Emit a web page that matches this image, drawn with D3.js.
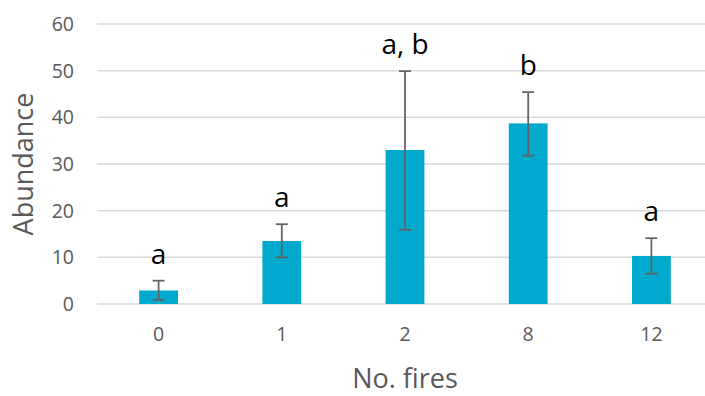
<!DOCTYPE html>
<html>
<head>
<meta charset="utf-8">
<script src="https://cdn.jsdelivr.net/npm/d3@7"></script>
<style>
  body { margin: 0; background: #fff; }
  text { font-family: "Open Sans", "Noto Sans", sans-serif; }
</style>
</head>
<body>
<svg id="chart"></svg>
<script>
// values
var fires = ["0", "1", "2", "8", "12"];
var abundance = [2.9, 13.5, 33.0, 38.7, 10.3];
var errLow = [0.9, 10.0, 15.9, 31.8, 6.5];
var errHigh = [5.0, 17.1, 49.9, 45.4, 14.1];
var groups = ["a", "a", "a, b", "b", "a"];
var yTicks = [0, 10, 20, 30, 40, 50, 60];

var width = 705, height = 396;
var margin = {top: 24, right: -8, bottom: 92, left: 97};

var data = fires.map(function(f, i) {
    return {fires: f, value: abundance[i], lo: errLow[i], hi: errHigh[i], group: groups[i]};
});

var chart = d3.select('#chart')
    .attr('width', width)
    .attr('height', height);

var x = d3.scaleBand()
    .domain(fires)
    .range([margin.left, width - margin.right])
    .paddingInner(0.685)
    .paddingOuter(0.3425);

var y = d3.scaleLinear()
    .domain([0, 60])
    .range([height - margin.bottom, margin.top]);

// gridlines
chart.append("g")
    .selectAll("line")
    .data(yTicks)
    .enter()
    .append("line")
        .attr("x1", margin.left)
        .attr("x2", width)
        .attr("y1", d => y(d))
        .attr("y2", d => y(d))
        .attr("stroke", "#d9d9d9")
        .attr("stroke-width", 1.5);

// y tick labels
chart.append("g")
    .selectAll("text")
    .data(yTicks)
    .enter()
    .append("text")
        .attr("x", 74)
        .attr("y", d => y(d))
        .attr("dy", "0.36em")
        .attr("text-anchor", "end")
        .attr("font-size", 19.5)
        .attr("fill", "#595959")
        .text(d => d);

// bars
chart.append("g")
    .selectAll("rect")
    .data(data)
    .enter()
    .append("rect")
        .attr("x", d => x(d.fires))
        .attr("y", d => y(d.value))
        .attr("width", x.bandwidth())
        .attr("height", d => y(0) - y(d.value))
        .attr("fill", "#00a9ce");

// error bars
var err = chart.append("g")
    .attr("stroke", "#636363")
    .attr("stroke-width", 1.75);
var cx = d => x(d.fires) + x.bandwidth() / 2;
err.selectAll(".stem")
    .data(data)
    .enter()
    .append("line")
        .attr("x1", cx).attr("x2", cx)
        .attr("y1", d => y(d.lo)).attr("y2", d => y(d.hi));
err.selectAll(".capHi")
    .data(data)
    .enter()
    .append("line")
        .attr("x1", d => cx(d) - 6).attr("x2", d => cx(d) + 6)
        .attr("y1", d => y(d.hi)).attr("y2", d => y(d.hi));
err.selectAll(".capLo")
    .data(data)
    .enter()
    .append("line")
        .attr("x1", d => cx(d) - 6).attr("x2", d => cx(d) + 6)
        .attr("y1", d => y(d.lo)).attr("y2", d => y(d.lo));

// group letters
chart.append("g")
    .selectAll("text")
    .data(data)
    .enter()
    .append("text")
        .attr("x", cx)
        .attr("y", d => y(d.hi) - 17)
        .attr("text-anchor", "middle")
        .attr("font-size", 28)
        .attr("fill", "#000")
        .text(d => d.group);

// x tick labels
chart.append("g")
    .selectAll("text")
    .data(fires)
    .enter()
    .append("text")
        .attr("x", d => x(d) + x.bandwidth() / 2)
        .attr("y", 341)
        .attr("text-anchor", "middle")
        .attr("font-size", 19.5)
        .attr("fill", "#595959")
        .text(d => d);

// axis titles
chart.append("text")
    .attr("x", 405)
    .attr("y", 388)
    .attr("text-anchor", "middle")
    .attr("font-size", 27)
    .attr("fill", "#595959")
    .text("No. fires");

chart.append("text")
    .attr("transform", "translate(33,164) rotate(-90)")
    .attr("text-anchor", "middle")
    .attr("font-size", 27)
    .attr("fill", "#595959")
    .text("Abundance");
</script>
</body>
</html>
